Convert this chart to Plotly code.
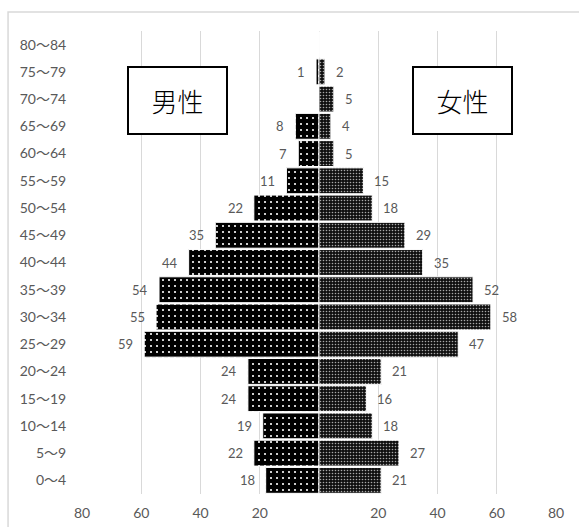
import plotly.graph_objects as go

# Age groups, youngest first (bottom of the pyramid)
age_groups = ["0～4", "5～9", "10～14", "15～19", "20～24", "25～29", "30～34",
              "35～39", "40～44", "45～49", "50～54", "55～59", "60～64",
              "65～69", "70～74", "75～79", "80～84"]
male = [18, 22, 19, 24, 24, 59, 55, 54, 44, 35, 22, 11, 7, 8, 0, 1, 0]
female = [21, 27, 18, 16, 21, 47, 58, 52, 35, 29, 18, 15, 5, 4, 5, 2, 0]

x_ticks = [-80, -60, -40, -20, 0, 20, 40, 60, 80]
x_tick_text = ["80", "60", "40", "20", "", "20", "40", "60", "80"]

LABEL_FONT = "Lato, Noto Sans CJK JP, sans-serif"
GREY = "#595959"

fig = go.Figure()

fig.add_trace(go.Bar(
    y=age_groups,
    x=[-v for v in male],
    orientation="h",
    name="男性",
    marker=dict(
        color="#000000",
        line=dict(color="#ffffff", width=1),
        pattern=dict(shape=".", size=6, solidity=0.1,
                     fgcolor="#ffffff", bgcolor="#000000", fillmode="replace"),
    ),
))

fig.add_trace(go.Bar(
    y=age_groups,
    x=female,
    orientation="h",
    name="女性",
    marker=dict(
        color="#1a1a1a",
        line=dict(color="#ffffff", width=1),
        pattern=dict(shape=".", size=3, solidity=0.22,
                     fgcolor="#a8a8a8", bgcolor="#101010", fillmode="replace"),
    ),
))

# Value labels beside each bar (zero counts left unlabelled)
for grp, m, f in zip(age_groups, male, female):
    if m:
        fig.add_annotation(x=-m, y=grp, text=str(m), showarrow=False,
                           xanchor="right", xshift=-9,
                           font=dict(size=13, color=GREY, family=LABEL_FONT))
    if f:
        fig.add_annotation(x=f, y=grp, text=str(f), showarrow=False,
                           xanchor="left", xshift=9,
                           font=dict(size=13, color=GREY, family=LABEL_FONT))

# Outer chart frame
fig.add_shape(type="rect", xref="paper", yref="paper",
              x0=-0.156, x1=1.2, y0=-0.2, y1=1.041,
              line=dict(color="#d9d9d9", width=1.5), layer="below")

# Sex label boxes
for label, cx in (("男性", -47.8), ("女性", 48.3)):
    fig.add_annotation(
        x=cx, xref="x", y=0.85, yref="paper",
        xanchor="center", yanchor="middle",
        text=label, showarrow=False,
        font=dict(size=26, color="#000000", family="Noto Sans CJK JP",
                  weight=300),
        bgcolor="#ffffff", bordercolor="#000000", borderwidth=2,
        width=95, height=63, align="center", valign="middle",
    )

fig.update_layout(
    width=579, height=527,
    margin=dict(l=82, r=23, t=31, b=33),
    paper_bgcolor="#ffffff",
    plot_bgcolor="#ffffff",
    barmode="relative",
    bargap=0.05,
    showlegend=False,
    font=dict(family=LABEL_FONT, color=GREY),
    xaxis=dict(
        range=[-80, 80],
        tickvals=x_ticks, ticktext=x_tick_text,
        showgrid=True, gridcolor="#d9d9d9", gridwidth=1,
        zeroline=False, showline=False, automargin=False,
        tickfont=dict(size=14, color=GREY),
        ticks="outside", ticklen=6, tickcolor="rgba(0,0,0,0)",
    ),
    yaxis=dict(
        categoryorder="array", categoryarray=age_groups,
        showgrid=False, zeroline=False, showline=False, automargin=False,
        tickfont=dict(size=14, color=GREY),
        ticks="outside", ticklen=12, tickcolor="rgba(0,0,0,0)",
    ),
)

fig.write_html("out.html")
